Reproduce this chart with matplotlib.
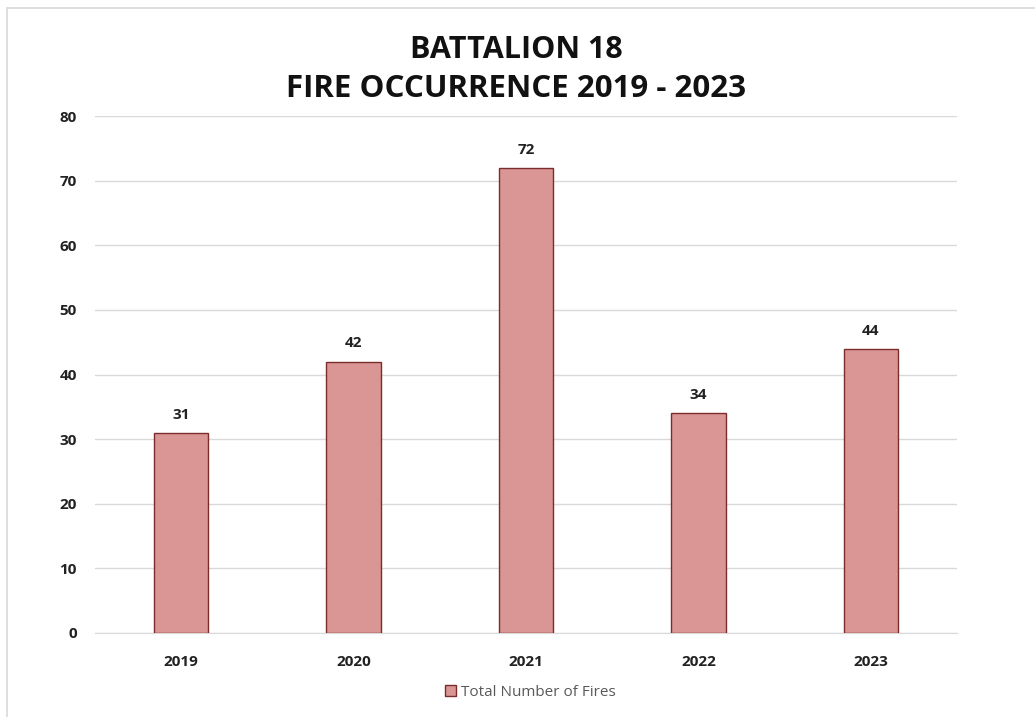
import matplotlib.pyplot as plt
from matplotlib.patches import Rectangle

# 各年の火災件数
years = ["2019", "2020", "2021", "2022", "2023"]
fires = [31, 42, 72, 34, 44]
y_ticks = [0, 10, 20, 30, 40, 50, 60, 70, 80]

plt.rcParams['font.family'] = ['Open Sans', 'DejaVu Sans']

fig = plt.figure(figsize=(10.35, 7.17), dpi=100)
fig.patch.set_facecolor('white')

# 外枠
fig.patches.append(Rectangle((7/1035, -0.05), 1.1, 0.05 + (1 - 8/717),
                             transform=fig.transFigure, fill=False,
                             edgecolor='#d9d9d9', linewidth=1.2))

ax = fig.add_axes([95/1035, 1 - 633/717, (957 - 95)/1035, (633 - 116)/717])
x = range(len(years))
bars = ax.bar(x, fires, width=0.315, color='#d99694', edgecolor='#7b2c2c',
              linewidth=1.0, label='Total Number of Fires', zorder=3)

for b, v in zip(bars, fires):
    ax.annotate(str(v), (b.get_x() + b.get_width()/2, v), xytext=(0, 8),
                textcoords='offset points', ha='center', va='bottom',
                fontsize=11, fontweight='bold', color='#222222')

ax.set_xlim(-0.5, len(years) - 0.5)
ax.set_ylim(0, 80)
ax.set_yticks(y_ticks)
ax.set_xticks(list(x))
ax.set_xticklabels(years)
ax.yaxis.grid(True, color='#d9d9d9', linewidth=1.0, zorder=0)
ax.tick_params(length=0, labelsize=11, colors='#222222')
ax.tick_params(axis='x', pad=16)
ax.tick_params(axis='y', pad=13)
for lbl in ax.get_xticklabels() + ax.get_yticklabels():
    lbl.set_fontweight('bold')
for s in ['top', 'right', 'left']:
    ax.spines[s].set_visible(False)
ax.spines['bottom'].set_color('#d9d9d9')

fig.text(516/1035, 1 - 50/717, "BATTALION 18", ha='center', va='center',
         fontsize=22, fontweight='bold', color='#111111')
fig.text(516/1035, 1 - 89/717, "FIRE OCCURRENCE 2019 - 2023", ha='center',
         va='center', fontsize=22.5, fontweight='bold', color='#111111')

fig.legend(handles=[bars], labels=['Total Number of Fires'],
           loc='center', bbox_to_anchor=(530/1035, 1 - 692/717), frameon=False,
           fontsize=11, labelcolor='#595959', handlelength=0.75,
           handleheight=0.75, handletextpad=0.3)

fig.savefig('out.png', dpi=100)
